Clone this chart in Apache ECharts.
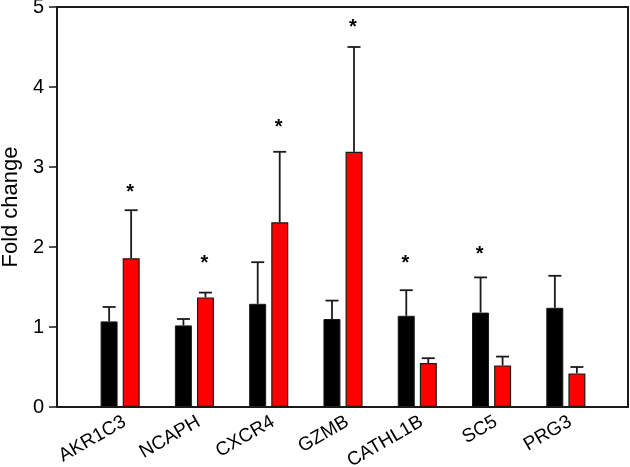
<!DOCTYPE html>
<html>
<head>
<meta charset="utf-8">
<script src="https://cdn.jsdelivr.net/npm/echarts@6/dist/echarts.min.js"></script>
<style>
html, body { margin: 0; padding: 0; background: #fff; }
#main { width: 630px; height: 467px; }
</style>
</head>
<body>
<div id="main"></div>
<script>
// genes on the x axis
var genes = ['AKR1C3', 'NCAPH', 'CXCR4', 'GZMB', 'CATHL1B', 'SC5', 'PRG3'];
// black bars (control) and red bars (treated), with upper error bar ends
var blackVals = [1.07, 1.02, 1.29, 1.10, 1.14, 1.18, 1.24];
var blackErrTop = [1.25, 1.10, 1.81, 1.33, 1.46, 1.62, 1.64];
var redVals = [1.86, 1.37, 2.31, 3.19, 0.55, 0.52, 0.42];
var redErrTop = [2.46, 1.43, 3.19, 4.50, 0.61, 0.63, 0.50];
// significance stars: which bar (0 black, 1 red) and the height they sit at
var starBar = [1, 1, 1, 1, 0, 0, null];
var starAt = [2.73, 1.84, 3.54, 4.79, 1.84, 1.96, null];
var yTicks = [0, 1, 2, 3, 4, 5];

var FONT = 'Liberation Sans, Arial, sans-serif';
var BAR_W = 17;
var BAR_OFF = 11;
var LINE = '#1a1a1a';

var chart = echarts.init(document.getElementById('main'));

function errItem(side) {
    return function (params, api) {
        var i = api.value(0);
        var base = api.coord([i, api.value(1)]);
        var top = api.coord([i, api.value(2)]);
        var x = base[0] + side * BAR_OFF;
        var st = { stroke: LINE, lineWidth: 1.8 };
        return {
            type: 'group',
            children: [
                { type: 'line', shape: { x1: x, y1: base[1], x2: x, y2: top[1] }, style: st },
                { type: 'line', shape: { x1: x - 6.5, y1: top[1], x2: x + 6.5, y2: top[1] }, style: st }
            ]
        };
    };
}

var blackErr = genes.map(function (g, i) { return [i, blackVals[i], blackErrTop[i]]; });
var redErr = genes.map(function (g, i) { return [i, redVals[i], redErrTop[i]]; });
var stars = [];
genes.forEach(function (g, i) {
    if (starBar[i] !== null) stars.push([i, starAt[i], starBar[i]]);
});

function frameAxis(extra) {
    var a = {
        gridIndex: 0, type: 'value',
        axisLine: { show: true, onZero: false, lineStyle: { color: LINE, width: 2 } },
        axisTick: { show: false }, axisLabel: { show: false }, splitLine: { show: false }
    };
    for (var k in extra) a[k] = extra[k];
    return a;
}

var option = {
    animation: false,
    grid: [
        { left: 57, right: 2, top: 7, bottom: 60, containLabel: false, outerBoundsMode: 'none' },
        { left: 83, right: 27, top: 7, bottom: 60, containLabel: false, outerBoundsMode: 'none' }
    ],
    xAxis: [
        frameAxis({ min: 0, max: 1, position: 'bottom' }),
        frameAxis({ min: 0, max: 1, position: 'top' }),
        { gridIndex: 1, type: 'category', data: genes,
          axisLine: { show: false }, axisTick: { show: false },
          axisLabel: { rotate: 30, fontSize: 19, color: '#000', fontFamily: FONT, margin: 16,
              padding: [0, -5, 0, 0] } }
    ],
    yAxis: [
        { gridIndex: 0, type: 'value', min: 0, max: 5, interval: 1, position: 'left',
          name: 'Fold change', nameLocation: 'middle', nameGap: 32,
          nameTextStyle: { fontSize: 22, color: '#000', fontFamily: FONT },
          axisLine: { show: true, onZero: false, lineStyle: { color: LINE, width: 2 } },
          axisTick: { show: true, inside: false, length: 8, lineStyle: { color: LINE, width: 1.5 } },
          axisLabel: { fontSize: 20, color: '#000', fontFamily: FONT, margin: 13,
              formatter: function (v) { return yTicks.indexOf(v) >= 0 ? String(v) : ''; } },
          splitLine: { show: false } },
        frameAxis({ min: 0, max: 5, position: 'right' }),
        { gridIndex: 1, type: 'value', min: 0, max: 5, show: false }
    ],
    series: [
        { type: 'bar', xAxisIndex: 2, yAxisIndex: 2, data: blackVals,
          barWidth: BAR_W, barGap: '30%',
          itemStyle: { color: '#000', borderColor: LINE, borderWidth: 1 } },
        { type: 'bar', xAxisIndex: 2, yAxisIndex: 2, data: redVals,
          barWidth: BAR_W, barGap: '30%',
          itemStyle: { color: '#ff0000', borderColor: LINE, borderWidth: 1.2 } },
        { type: 'custom', xAxisIndex: 2, yAxisIndex: 2, data: blackErr,
          renderItem: errItem(-1), z: 5 },
        { type: 'custom', xAxisIndex: 2, yAxisIndex: 2, data: redErr,
          renderItem: errItem(1), z: 5 },
        { type: 'custom', xAxisIndex: 2, yAxisIndex: 2, data: stars, z: 6,
          renderItem: function (params, api) {
              var p = api.coord([api.value(0), api.value(1)]);
              var side = api.value(2) === 1 ? 1 : -1;
              return {
                  type: 'text',
                  style: { text: '*', x: p[0] + side * BAR_OFF - 1, y: p[1] + 4,
                      fill: '#000', font: 'bold 20px ' + FONT,
                      textAlign: 'center', textVerticalAlign: 'middle' }
              };
          } }
    ]
};

chart.setOption(option);
</script>
</body>
</html>
